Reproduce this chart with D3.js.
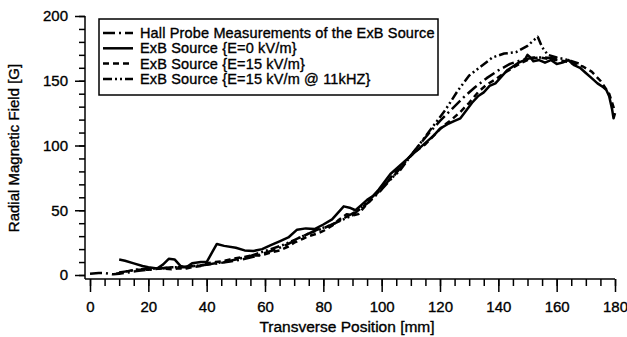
<!DOCTYPE html>
<html>
<head>
<meta charset="UTF-8">
<script src="https://d3js.org/d3.v7.min.js"></script>
<style>
  body { margin: 0; background: #fff; font-family: Arial, "Liberation Sans", sans-serif; }
  text { fill: #000; stroke: #000; stroke-width: 0.35px; }
  .tick text { font-size: 15px; }
</style>
</head>
<body>
<div id="chart"></div>
<script>
// Series data (x in mm, y in G)
const hallX = [0, 3, 5, 8, 10, 13, 16, 20, 24, 28, 32, 36, 40, 44, 48, 52, 56, 60, 64, 68, 72, 76, 80, 84, 88, 92, 96, 100, 104, 108, 112, 116, 120, 124, 128, 132, 136, 140, 144, 148, 152, 156, 160];
const hallY = [1, 1.5, 1.5, 0.5, 1, 2, 3, 4, 5, 6, 6, 7, 8, 9, 10.5, 12, 14, 17, 20, 24, 29, 33, 36, 40, 45, 50, 57, 66, 76, 87, 98, 109, 119, 128, 137, 145, 152, 158, 163, 166, 168, 168, 167];

const e0X = [10, 12, 15, 18, 20, 23, 25, 27, 29, 31, 33, 35, 38, 40, 42, 43.5, 46, 50, 53, 56, 59, 62, 65, 68, 71, 74, 77, 80, 83, 85, 87, 89, 91, 93, 95, 97, 99, 101, 103, 106, 109, 112, 115, 118, 120, 123, 125, 127, 129, 131, 133, 135, 137, 139, 141, 143, 145, 147, 149, 150, 151, 152, 154, 156, 158, 160, 162, 164, 166, 168, 170, 172, 174, 176, 177, 178, 179, 179.5, 180];
const e0Y = [12, 11, 9, 7, 6, 5, 8, 12.5, 12, 7, 6, 9, 10, 10, 18, 24, 22.5, 21, 19, 18.5, 20, 23, 26, 29, 35, 36, 35.5, 39, 43, 48, 53, 52, 50, 54, 58, 61, 66, 72, 78, 84, 90, 96, 102, 108, 113, 117, 119, 121, 127, 133, 138, 141, 146, 148, 153, 158, 161, 164, 166, 170, 168, 165, 166, 164, 166, 163, 164, 166, 162, 160, 156, 152, 148, 145, 143, 138, 128, 121, 125];

const e15X = [9, 11, 13, 15, 18, 20, 23, 25, 28, 30, 33, 35, 38, 40, 43, 45, 48, 50, 53, 55, 58, 60, 63, 65, 68, 70, 73, 75, 78, 80, 83, 85, 88, 90, 92, 95, 98, 100, 103, 106, 109, 112, 115, 118, 121, 124, 127, 130, 133, 136, 139, 142, 145, 148, 151, 154, 157, 160, 163, 166, 169, 172, 175, 178, 180];
const e15Y = [1, 2, 3, 4, 4, 4, 5, 5, 4.5, 5, 5, 6, 7, 9, 10, 10.5, 12, 13, 14, 15, 15, 16, 18, 19, 22, 25, 28, 30, 32, 34, 38, 42, 47, 46, 47, 55, 62, 67, 75, 83, 90, 96, 101, 108, 115, 120, 126, 133, 141, 147, 151, 156, 160, 164, 167, 168, 167, 166, 165, 163, 161, 157, 150, 140, 126];

const khzX = [10, 13, 16, 20, 24, 28, 32, 36, 40, 43, 46, 50, 54, 58, 62, 66, 70, 74, 78, 82, 86, 90, 94, 98, 102, 106, 110, 114, 118, 122, 126, 130, 134, 138, 142, 146, 150, 152, 153.5, 155, 157, 160, 164, 168];
const khzY = [2, 3, 4, 5, 5, 6, 6, 7, 8, 9, 10, 12, 14, 17, 20, 23, 27, 31, 35, 38, 42, 46, 54, 63, 72, 80, 92, 104, 116, 128, 142, 154, 161, 168, 171, 172, 177, 181, 184, 176, 170, 168, 166, 163];

const legendLabels = [
  "Hall Probe Measurements of the ExB Source",
  "ExB Source {E=0 kV/m}",
  "ExB Source {E=15 kV/m}",
  "ExB Source {E=15 kV/m @ 11kHZ}"
];
const xTicks = [0, 20, 40, 60, 80, 100, 120, 140, 160, 180];
const yTicks = [0, 50, 100, 150, 200];

const W = 627, H = 337;
const svg = d3.select("#chart").append("svg")
  .attr("width", W).attr("height", H);

const x = d3.scaleLinear().domain([0, 180]).range([90, 615]);
const y = d3.scaleLinear().domain([0, 200]).range([275, 16]);
const axisY0 = 279, axisX0 = 85;

// X axis
const xg = svg.append("g").attr("transform", `translate(0,${axisY0})`);
xg.call(d3.axisBottom(x).tickValues(d3.range(0, 181, 5)).tickSize(7).tickFormat(""))
  .call(g => g.select(".domain").remove());
xg.append("g").call(d3.axisBottom(x).tickValues(xTicks).tickSize(13).tickPadding(9).tickFormat(d3.format("d")))
  .call(g => g.select(".domain").remove());
xg.append("line").attr("x1", axisX0).attr("x2", x(180)).attr("stroke", "#000").attr("stroke-width", 1.5);
xg.selectAll(".tick line").attr("stroke-width", 1.5);

// Y axis
const yg = svg.append("g").attr("transform", `translate(${axisX0},0)`);
yg.call(d3.axisLeft(y).tickValues(d3.range(0, 201, 10)).tickSize(6).tickFormat(""))
  .call(g => g.select(".domain").remove());
yg.append("g").call(d3.axisLeft(y).tickValues(yTicks).tickSize(10).tickPadding(7).tickFormat(d3.format("d")))
  .call(g => g.select(".domain").remove());
yg.append("line").attr("y1", y(200)).attr("y2", axisY0).attr("stroke", "#000").attr("stroke-width", 1.5);
yg.selectAll(".tick line").attr("stroke-width", 1.5);

// Axis titles
svg.append("text")
  .attr("x", 347).attr("y", 332)
  .attr("text-anchor", "middle")
  .style("font-size", "15.5px")
  .text("Transverse Position [mm]");
svg.append("text")
  .attr("transform", "translate(19,148) rotate(-90)")
  .attr("text-anchor", "middle")
  .style("font-size", "15px")
  .text("Radial Magnetic Field [G]");

// Curves
const series = [
  { xs: hallX, ys: hallY, dash: "12,4,2,4" },
  { xs: e0X, ys: e0Y, dash: null },
  { xs: e15X, ys: e15Y, dash: "6,4" },
  { xs: khzX, ys: khzY, dash: "9,3,2,3,2,3" }
];
const line = d3.line().x(d => x(d[0])).y(d => y(d[1]));
series.forEach(s => {
  svg.append("path")
    .datum(d3.zip(s.xs, s.ys))
    .attr("d", line)
    .attr("fill", "none")
    .attr("stroke", "#000")
    .attr("stroke-width", 2.5)
    .attr("stroke-linejoin", "round")
    .attr("stroke-dasharray", s.dash);
});

// Legend
const lg = svg.append("g");
lg.append("rect")
  .attr("x", 99).attr("y", 19).attr("width", 339).attr("height", 76)
  .attr("fill", "#fff").attr("stroke", "#000").attr("stroke-width", 1.5);
legendLabels.forEach((t, i) => {
  const ly = 33 + i * 15.3;
  lg.append("line")
    .attr("x1", 103).attr("x2", 133).attr("y1", ly).attr("y2", ly)
    .attr("stroke", "#000").attr("stroke-width", 2.5)
    .attr("stroke-dasharray", series[i].dash);
  lg.append("text")
    .attr("x", 140).attr("y", ly + 5)
    .style("font-size", "14.5px")
    .style("letter-spacing", "0.15px")
    .text(t);
});
</script>
</body>
</html>
